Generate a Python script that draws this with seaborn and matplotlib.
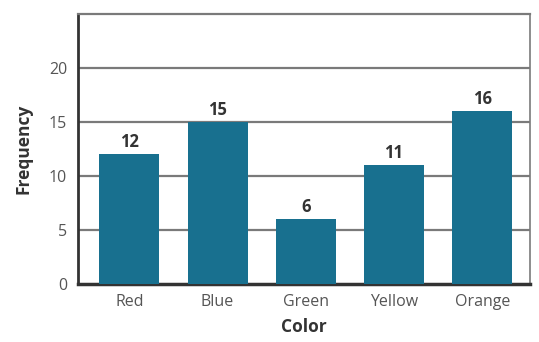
import pandas as pd
import matplotlib
matplotlib.use("Agg")
import matplotlib.pyplot as plt
import seaborn as sns

colors = ["Red", "Blue", "Green", "Yellow", "Orange"]
frequency = [12, 15, 6, 11, 16]
y_ticks = [0, 5, 10, 15, 20]

df = pd.DataFrame({"Color": colors, "Frequency": frequency})

sns.set_style("white")
plt.rcParams['font.family'] = ['Open Sans', 'DejaVu Sans']

fig = plt.figure(figsize=(5.39, 3.42), dpi=100)
ax = fig.add_axes([0.145, 0.17, 0.838, 0.789])

sns.barplot(data=df, x="Color", y="Frequency", color="#18708f",
            saturation=1, width=0.68, linewidth=0, ax=ax, zorder=3)

for i, v in enumerate(frequency):
    ax.text(i, v + 0.3, str(v), ha="center", va="bottom", fontsize=12,
            fontweight="bold", color="#333333")

ax.set_ylim(0, 25)
ax.set_xlim(-0.58, 4.54)
ax.set_yticks(y_ticks)
for t in y_ticks[1:]:
    ax.axhline(t, color="#7a7a7a", lw=1.6, zorder=1)

ax.spines["left"].set_color("#333333")
ax.spines["bottom"].set_color("#333333")
ax.spines["left"].set_linewidth(2)
ax.spines["bottom"].set_linewidth(2.5)
ax.spines["top"].set_color("#7a7a7a")
ax.spines["right"].set_color("#7a7a7a")
ax.spines["top"].set_linewidth(1.6)
ax.spines["right"].set_linewidth(1.2)

ax.tick_params(axis="both", length=0, labelsize=11.5, labelcolor="#555555")
ax.tick_params(axis="y", pad=8)
ax.tick_params(axis="x", pad=7)
ax.set_xlabel("Color", fontsize=12.5, fontweight="bold", color="#333333",
              labelpad=6)
ax.set_ylabel("Frequency", fontsize=12.5, fontweight="bold", color="#333333",
              labelpad=12)

fig.savefig("out.png", dpi=100)
